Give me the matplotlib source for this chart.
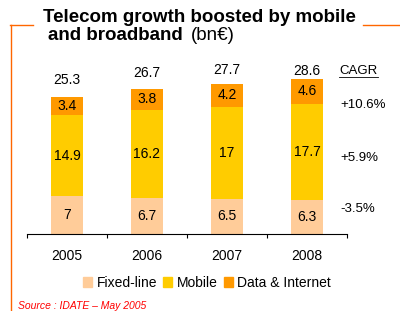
import matplotlib
matplotlib.use("Agg")
import matplotlib.pyplot as plt
from matplotlib.patches import Patch
from matplotlib.lines import Line2D

plt.rcParams['font.family'] = ['Liberation Sans', 'DejaVu Sans']

years = ['2005', '2006', '2007', '2008']
fixed = [7, 6.7, 6.5, 6.3]
mobile = [14.9, 16.2, 17, 17.7]
data_net = [3.4, 3.8, 4.2, 4.6]
totals = [25.3, 26.7, 27.7, 28.6]
series_names = ['Fixed-line', 'Mobile', 'Data & Internet']
cagr = ['+10.6%', '+5.9%', '-3.5%']

c_fixed = '#FFCC99'
c_mobile = '#FFCC00'
c_data = '#FF9900'
c_frame = '#FF6600'

W, H = 400, 311
fig = plt.figure(figsize=(4, 3.11), dpi=100)
ax = fig.add_axes([27 / W, 1 - 234 / H, 320 / W, 192 / H])

x = range(len(years))
w = 0.41
ax.bar(x, fixed, w, color=c_fixed)
ax.bar(x, mobile, w, bottom=fixed, color=c_mobile)
bot2 = [a + b for a, b in zip(fixed, mobile)]
ax.bar(x, data_net, w, bottom=bot2, color=c_data)

# total labels sit at uneven heights in the original
total_pad = [12.2, 11.5, 10, 5.8]
for i in x:
    ax.text(i, fixed[i] / 2, f'{fixed[i]:g}', ha='center', va='center', fontsize=10)
    ax.text(i, fixed[i] + mobile[i] / 2, f'{mobile[i]:g}', ha='center', va='center', fontsize=10)
    ax.text(i, bot2[i] + data_net[i] / 2, f'{data_net[i]:g}', ha='center', va='center', fontsize=10)
    ax.annotate(f'{totals[i]:g}', xy=(i, totals[i]), xytext=(0, total_pad[i]),
                textcoords='offset points', ha='center', va='center', fontsize=10)

ax.set_xlim(-0.5, 3.5)
ax.set_ylim(0, 35.4)
ax.set_xticks([-0.5, 0.5, 1.5, 2.5, 3.5])
ax.set_xticklabels([])
ax.set_xticks(list(x), minor=True)
ax.set_xticklabels(years, minor=True, fontsize=10)
ax.tick_params(axis='x', which='major', length=3, width=0.8, direction='out')
ax.tick_params(axis='x', which='minor', length=0, pad=10.5)
ax.set_yticks([])
for s in ['left', 'right', 'top']:
    ax.spines[s].set_visible(False)
ax.spines['bottom'].set_linewidth(0.8)

# CAGR column
fig.text(339 / W, 1 - 71 / H, 'CAGR', fontsize=9.5, ha='left', va='center')
fig.add_artist(Line2D([339 / W, 378 / W], [1 - 76.5 / H, 1 - 76.5 / H], color='black', lw=0.6))
for yy, lab in zip([105, 158, 209], cagr):
    fig.text(340 / W, 1 - yy / H, lab, fontsize=9.5, ha='left', va='center')

# frame lines
fig.add_artist(Line2D([10 / W, 33 / W], [1 - 25 / H, 1 - 25 / H], color=c_frame, lw=1))
fig.add_artist(Line2D([363 / W, 1], [1 - 25 / H, 1 - 25 / H], color=c_frame, lw=1))
fig.add_artist(Line2D([11 / W, 11 / W], [1 - 25 / H, 0], color=c_frame, lw=1))

# title
fig.text(43 / W, 1 - 22 / H, 'Telecom growth boosted by mobile', fontsize=13.5,
         fontweight='bold', va='baseline')
t2 = fig.text(48 / W, 1 - 40 / H, 'and broadband', fontsize=13.5, fontweight='bold',
              va='baseline')
fig.text(191 / W, 1 - 40 / H, '(bn€)', fontsize=13.5, va='baseline')

handles = [Patch(color=c) for c in [c_fixed, c_mobile, c_data]]
fig.legend(handles, series_names, loc='center', bbox_to_anchor=(207 / W, 1 - 283 / H),
           ncol=3, frameon=False, fontsize=10, handlelength=0.65, handleheight=0.65,
           handletextpad=0.3, columnspacing=0.45, borderpad=0)

fig.text(18 / W, 1 - 306 / H, 'Source : IDATE – May 2005', fontsize=7.5, color='red',
         style='italic', va='center')

fig.savefig('out.png', dpi=100)
